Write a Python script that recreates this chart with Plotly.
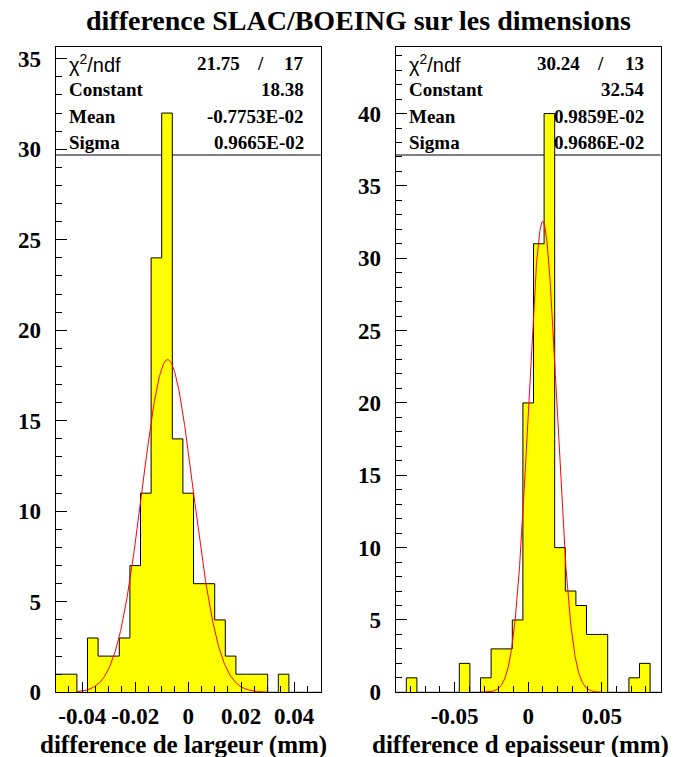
import numpy as np
import plotly.graph_objects as go

# ---------------- data ----------------
# left histogram: difference de largeur (mm), 25 bins from -0.05 to 0.05
left_edges_lo = -0.05
left_bin_w = 0.004
left_counts = [1, 1, 0, 3, 2, 2, 3, 7, 11, 24, 32, 14, 11, 6, 6, 4, 2, 1, 1, 1, 0, 1, 0, 0, 0]
left_fit = {"chi2": "21.75", "ndf": "17", "Constant": 18.38, "Mean": -0.7753e-02, "Sigma": 0.9665e-02}
left_fit_text = ["18.38", "-0.7753E-02", "0.9665E-02"]
left_fit_range = [-0.042, 0.030]
left_xticks = [-0.04, -0.02, 0, 0.02, 0.04]
left_xticktext = ["-0.04", "-0.02", "0", "0.02", "0.04"]
left_yticks = [0, 5, 10, 15, 20, 25, 30, 35]

# right histogram: difference d epaisseur (mm), 25 bins from -0.09 to 0.09
right_edges_lo = -0.09
right_bin_w = 0.0072
right_counts = [0, 1, 0, 0, 0, 0, 2, 0, 1, 3, 3, 5, 20, 31, 40, 10, 7, 6, 4, 4, 0, 0, 1, 2, 0]
right_fit = {"chi2": "30.24", "ndf": "13", "Constant": 32.54, "Mean": 0.9859e-02, "Sigma": 0.9686e-02}
right_fit_text = ["32.54", "0.9859E-02", "0.9686E-02"]
right_fit_range = [-0.0324, 0.0504]
right_xticks = [-0.05, 0, 0.05]
right_xticktext = ["-0.05", "0", "0.05"]
right_yticks = [0, 5, 10, 15, 20, 25, 30, 35, 40]

title = "difference SLAC/BOEING sur les dimensions"
left_xtitle = "difference de largeur (mm)"
right_xtitle = "difference d epaisseur (mm)"

# ---------------- figure ----------------
REF_H = 757
W, H = 675, 770
SERIF = "Liberation Serif"
SANS = "Liberation Sans"


def px(x):
    return x / W


def py(y):
    return 1 - y / REF_H


fig = go.Figure()


def add_hist(counts, lo, bw, fit, frange, xa, ya):
    n = len(counts)
    edges = [lo + i * bw for i in range(n + 1)]
    ys = list(counts) + [counts[-1]]
    fig.add_trace(go.Scatter(
        x=edges, y=ys, mode="lines", line_shape="hv",
        line=dict(color="black", width=1), fill="tozeroy",
        fillcolor="#ffff00", xaxis=xa, yaxis=ya, showlegend=False,
        hoverinfo="skip"))
    xf = np.linspace(frange[0], frange[1], 400)
    yf = fit["Constant"] * np.exp(-0.5 * ((xf - fit["Mean"]) / fit["Sigma"]) ** 2)
    fig.add_trace(go.Scatter(
        x=xf, y=yf, mode="lines", line=dict(color="#ff0000", width=1),
        xaxis=xa, yaxis=ya, showlegend=False, hoverinfo="skip"))


add_hist(left_counts, left_edges_lo, left_bin_w, left_fit, left_fit_range, "x", "y")
add_hist(right_counts, right_edges_lo, right_bin_w, right_fit, right_fit_range, "x2", "y2")

ybot = py(692.3)
ytop = py(47)
lx0, lx1 = px(55.7), px(320.7)
rx0, rx1 = px(395.7), px(660.7)

tickfont = dict(family=SERIF, size=23, color="black", weight="bold")


def xaxis_cfg(dom, rng, tv, tt, minor_dt, anchor):
    return dict(domain=dom, range=rng, tickmode="array", tickvals=tv, ticktext=tt,
                ticks="inside", ticklen=10, tickcolor="black", tickwidth=1,
                minor=dict(dtick=minor_dt, tick0=0, ticks="inside", ticklen=6,
                           tickcolor="black", tickwidth=1, showgrid=False),
                showline=True, linecolor="black", linewidth=1, mirror=True,
                showgrid=False, zeroline=False, tickfont=tickfont,
                ticklabelstandoff=3, anchor=anchor)


def yaxis_cfg(rng, tv, anchor):
    return dict(domain=[ybot, ytop], range=rng, tickmode="array", tickvals=tv,
                ticktext=[str(v) for v in tv],
                ticks="inside", ticklen=11, tickcolor="black", tickwidth=1,
                minor=dict(dtick=1, tick0=0, ticks="inside", ticklen=6,
                           tickcolor="black", tickwidth=1, showgrid=False),
                showline=True, linecolor="black", linewidth=1, mirror=True,
                showgrid=False, zeroline=False, tickfont=tickfont,
                anchor=anchor, ticklabelstandoff=9)


fig.update_layout(
    width=W, height=H, margin=dict(l=0, r=0, t=0, b=0),
    paper_bgcolor="white", plot_bgcolor="white",
    xaxis=xaxis_cfg([lx0, lx1], [-0.05, 0.05], left_xticks, left_xticktext, 0.005, "y"),
    yaxis=yaxis_cfg([0, 35.65], left_yticks, "x"),
    xaxis2=xaxis_cfg([rx0, rx1], [-0.09, 0.09], right_xticks, right_xticktext, 0.01, "y2"),
    yaxis2=yaxis_cfg([0, 44.6], right_yticks, "x2"),
)

# stat box separator lines
box_frac = (692.3 - 155) / (692.3 - 47)
for xr, yr in (("x", "y"), ("x2", "y2")):
    fig.add_shape(type="line", xref=f"{xr} domain", yref=f"{yr} domain",
                  x0=0, x1=1, y0=box_frac, y1=box_frac,
                  line=dict(color="black", width=1), layer="below")

ann = []
bold = dict(family=SERIF, size=19, color="black", weight="bold")
rows_y = [63, 90, 116, 142]


def stat_box(xl, xr, fit, vals, chi_x, slash_x):
    ann.append(dict(x=px(xl), y=py(rows_y[0]), text="χ<sup>2</sup>/ndf", showarrow=False,
                    xanchor="left", yanchor="middle",
                    font=dict(family=SANS, size=20, color="black")))
    ann.append(dict(x=px(chi_x), y=py(rows_y[0]), text=fit["chi2"], showarrow=False,
                    xanchor="right", yanchor="middle", font=bold))
    ann.append(dict(x=px(slash_x), y=py(rows_y[0]), text="/", showarrow=False,
                    xanchor="center", yanchor="middle", font=bold))
    ann.append(dict(x=px(xr), y=py(rows_y[0]), text=fit["ndf"], showarrow=False,
                    xanchor="right", yanchor="middle", font=bold))
    for i, lab in enumerate(["Constant", "Mean", "Sigma"]):
        ann.append(dict(x=px(xl), y=py(rows_y[i + 1]), text=lab, showarrow=False,
                        xanchor="left", yanchor="middle", font=bold))
        ann.append(dict(x=px(xr), y=py(rows_y[i + 1]), text=vals[i], showarrow=False,
                        xanchor="right", yanchor="middle", font=bold))


stat_box(67, 306, left_fit, left_fit_text, 242, 260)
stat_box(407, 646, right_fit, right_fit_text, 582, 600)

ann.append(dict(x=px(358), y=py(20), text=title, showarrow=False,
                xanchor="center", yanchor="middle",
                font=dict(family=SERIF, size=28, color="black", weight="bold")))
ann.append(dict(x=px(329), y=py(745), text=left_xtitle, showarrow=False,
                xanchor="right", yanchor="middle",
                font=dict(family=SERIF, size=25, color="black", weight="bold")))
ann.append(dict(x=px(671), y=py(745), text=right_xtitle, showarrow=False,
                xanchor="right", yanchor="middle",
                font=dict(family=SERIF, size=25, color="black", weight="bold")))
for a in ann:
    a["xref"] = "paper"
    a["yref"] = "paper"
fig.update_layout(annotations=ann)

fig.write_html(
    "out.html",
    config={"displayModeBar": False},
    post_script=(
        "document.body.style.margin='0';"
        "document.body.style.overflow='hidden';"
        "document.documentElement.style.overflow='hidden';"
    ),
)
